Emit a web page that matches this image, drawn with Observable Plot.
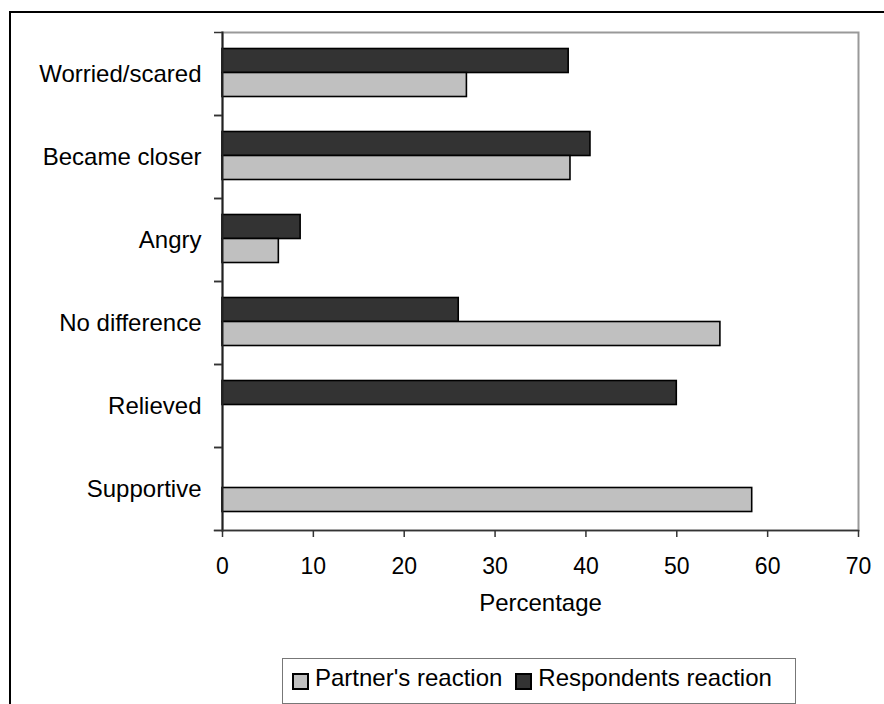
<!DOCTYPE html>
<html>
<head>
<meta charset="utf-8">
<script src="https://cdn.jsdelivr.net/npm/d3@7"></script>
<script src="https://cdn.jsdelivr.net/npm/@observablehq/plot@0.6"></script>
<style>
html, body { margin: 0; padding: 0; background: #fff; overflow: hidden; width: 884px; height: 704px;
  font-family: "Liberation Sans", Arial, sans-serif; }
#border { position: absolute; left: 9px; top: 11px; width: 1000px; height: 1000px;
  border-left: 2px solid #000; border-top: 2px solid #000; }
#chart { position: absolute; left: 0; top: 0; }
#legend { position: absolute; left: 282px; top: 658px; width: 512px; height: 44px;
  border: 1.5px solid #777; display: flex; align-items: center; font-size: 24px; color: #000; }
.item { display: flex; align-items: center; }
.sw { width: 13px; height: 13px; border: 2px solid #000; box-sizing: content-box; }
.lbl { position: relative; top: -3px; }
</style>
</head>
<body>
<div id="border"></div>
<div id="chart"></div>
<div id="legend"></div>
<script>
const categories = ["Worried/scared", "Became closer", "Angry", "No difference", "Relieved", "Supportive"];
const seriesNames = ["Partner's reaction", "Respondents reaction"];
const partnerValues = [26.9, 38.3, 6.2, 54.8, null, 58.3];
const respondentValues = [38.1, 40.5, 8.6, 26.0, 50.0, null];
const xTicks = [0, 10, 20, 30, 40, 50, 60, 70];
const seriesColors = ["#c0c0c0", "#333333"];
const axisTitle = "Percentage";

const rows = [];
categories.forEach((c, i) => {
  if (partnerValues[i] != null) rows.push({category: c, series: seriesNames[0], value: partnerValues[i]});
  if (respondentValues[i] != null) rows.push({category: c, series: seriesNames[1], value: respondentValues[i]});
});

const chart = Plot.plot({
  width: 884,
  height: 630,
  marginTop: 32,
  marginBottom: 100,
  marginLeft: 222,
  marginRight: 26,
  style: {fontFamily: '"Liberation Sans", Arial, sans-serif', fontSize: "24px", color: "#000", background: "transparent"},
  x: {domain: [0, 70], ticks: xTicks, label: null},
  y: {domain: categories, padding: 0, label: null},
  color: {domain: seriesNames, range: seriesColors},
  marks: [
    Plot.frame({stroke: "#999", strokeWidth: 2}),
    Plot.barX(rows.filter(d => d.series === seriesNames[1]), {
      x: "value", y: "category", fill: "series", stroke: "#000", strokeWidth: 1.6,
      insetTop: 16.5, insetBottom: 42.5
    }),
    Plot.barX(rows.filter(d => d.series === seriesNames[0]), {
      x: "value", y: "category", fill: "series", stroke: "#000", strokeWidth: 1.6,
      insetTop: 40.5, insetBottom: 18.5
    }),
    Plot.frame({anchor: "left", stroke: "#222", strokeWidth: 2}),
    Plot.frame({anchor: "bottom", stroke: "#333", strokeWidth: 1.5, insetLeft: -8}),
    Plot.axisX({ticks: xTicks, tickSize: 7, tickPadding: 20, stroke: "#333", strokeWidth: 1.5, fontSize: 23, label: null}),
    Plot.axisY({tickSize: 0, tickPadding: 21, fontSize: 24, label: null}),
    Plot.axisY({tickSize: 8, tickFormat: () => "", dy: -41.5, stroke: "#333", strokeWidth: 1.5, label: null}),
    Plot.axisY({tickSize: 8, tickFormat: () => "", dy: 41.5, stroke: "#333", strokeWidth: 1.5, label: null}),
    Plot.text([axisTitle], {text: d => d, frameAnchor: "bottom", dy: 80, fontSize: 24, fill: "#000"})
  ]
});
document.getElementById("chart").appendChild(chart);

const legend = document.getElementById("legend");
seriesNames.forEach((name, i) => {
  const item = document.createElement("div");
  item.className = "item";
  item.style.marginLeft = i === 0 ? "9px" : "13px";
  const sw = document.createElement("div");
  sw.className = "sw";
  sw.style.background = seriesColors[i];
  const lbl = document.createElement("span");
  lbl.className = "lbl";
  lbl.style.marginLeft = "6px";
  lbl.textContent = name;
  item.appendChild(sw);
  item.appendChild(lbl);
  legend.appendChild(item);
});
</script>
</body>
</html>
